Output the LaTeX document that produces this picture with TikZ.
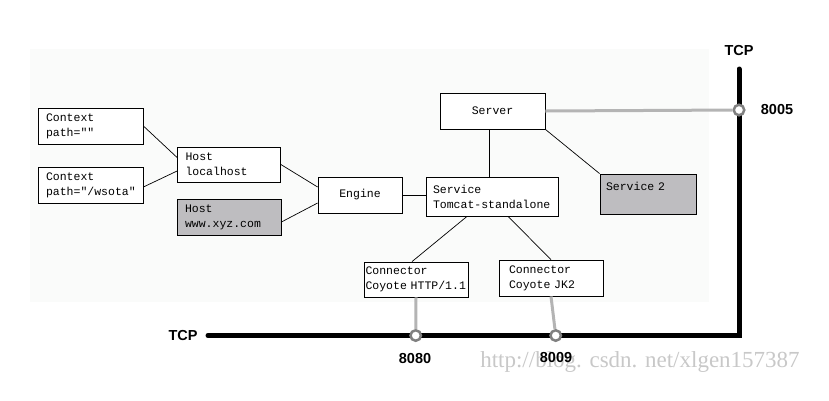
\documentclass[tikz,border=0pt]{standalone}
\usepackage{fontspec}
\setmainfont{Liberation Sans}
\newfontfamily\monofont{Liberation Mono}
\newfontfamily\markfont{Liberation Serif}

\definecolor{panelbg}{RGB}{250,251,250}
\definecolor{linkgray}{RGB}{180,180,180}
\definecolor{ringgray}{RGB}{128,128,128}
\definecolor{boxgray}{RGB}{190,189,192}
\definecolor{markgray}{RGB}{200,200,200}

\tikzset{
        box/.style={draw, line width=0.8pt, fill=white, align=left,
                inner xsep=8pt, inner ysep=0pt, minimum height=36pt,
                font=\monofont\fontsize{11.5}{15}\selectfont},
        greybox/.style={box, fill=boxgray},
        wire/.style={line width=0.7pt},
        link/.style={line width=3pt, draw=linkgray},
        bus/.style={line width=5pt, line cap=round},
        port/.style={circle, draw=ringgray, line width=2.5pt, fill=white,
                minimum size=10.5pt, inner sep=0pt},
        tcplabel/.style={font=\bfseries\fontsize{14.5}{17}\selectfont}
}

\begin{document}
\begin{tikzpicture}[x=1pt, y=-1pt]
        \useasboundingbox (0, 0) rectangle (829, 400);
        \fill[panelbg] (30, 49) rectangle (709, 302);

        \node[markgray, font=\markfont\fontsize{23}{26}\selectfont] (mark) at (640, 362) {http://blog. csdn. net/xlgen157387};

        % 盒子
        \node[box, text width=89pt] (ctx1) at (90.5, 126) {Context\\path=""};
        \node[box, text width=89pt] (ctx2) at (90.5, 185) {Context\\path="/wsota"};
        \node[box, text width=87pt, minimum height=35pt] (hostA) at (229, 164.5) {Host\\localhost};
        \node[greybox, text width=88pt] (hostB) at (229, 217) {Host\\www.xyz.com};
        \node[box, text width=68pt, align=center] (engine) at (360, 195) {Engine};
        \node[box, text width=118pt, inner xsep=7pt, minimum height=39pt] (service) at (492, 196.5) {Service\\Tomcat-standalone};
        \node[box, text width=89pt, align=center] (server) at (492.5, 111) {Server};
        \node[greybox, text width=84pt, inner xsep=6pt, minimum height=40pt] (service2) at (648, 194) {Service 2\\\mbox{}};
        \node[box, text width=101pt, inner xsep=1.5pt, minimum height=35pt] (connA) at (416, 279.5) {Connector\\Coyote HTTP/1.1};
        \node[box, text width=84pt, inner xsep=10pt] (connB) at (551, 278) {Connector\\Coyote JK2};

        \draw[wire] (ctx1.east) -- ([yshift=7pt]hostA.west);
        \draw[wire] ([yshift=-2pt]ctx2.east) -- ([yshift=-6.5pt]hostA.west);
        \draw[wire] (hostA.east) -- ([yshift=8pt]engine.west);
        \draw[wire] ([yshift=-5pt]hostB.east) -- ([yshift=-8pt]engine.west);
        \draw[wire] (engine.east) -- (engine.east -| service.west);
        \draw[wire] ([xshift=-3pt]server.south) -- ([xshift=-3pt]server.south |- service.north);
        \draw[wire] (server.south east) -- (service2.north west);
        \draw[wire] ([xshift=-25pt]service.south) -- ([xshift=-4pt]connA.north);
        \draw[wire] ([xshift=16pt]service.south) -- (connB.north);

        % TCP 线
        \coordinate (tcpL) at (208, 335.5);
        \coordinate (tcpC) at (739, 335.5);
        \coordinate (tcpT) at (739, 69);
        \draw[bus] (tcpL) -- (tcpC) -- (tcpT);

        \node[port] (p8005) at (739, 110) {};
        \node[port] (p8080) at (415.7, 335.5) {};
        \node[port] (p8009) at (555.7, 335.5) {};

        % 灰色连接线
        \draw[link] (server.east) -- (p8005);
        \draw[link] (connA.south) -- (p8080);
        \draw[link] (connB.south) -- (p8009);

        \node[tcplabel] (tcptop) at (739, 51) {TCP};
        \node[tcplabel] (tcpleft) at (183, 335) {TCP};
        \node[tcplabel] (l8005) at (777, 110) {8005};
        \node[tcplabel] (l8080) at (415, 358) {8080};
        \node[tcplabel] (l8009) at (556, 357) {8009};
\end{tikzpicture}
\end{document}
